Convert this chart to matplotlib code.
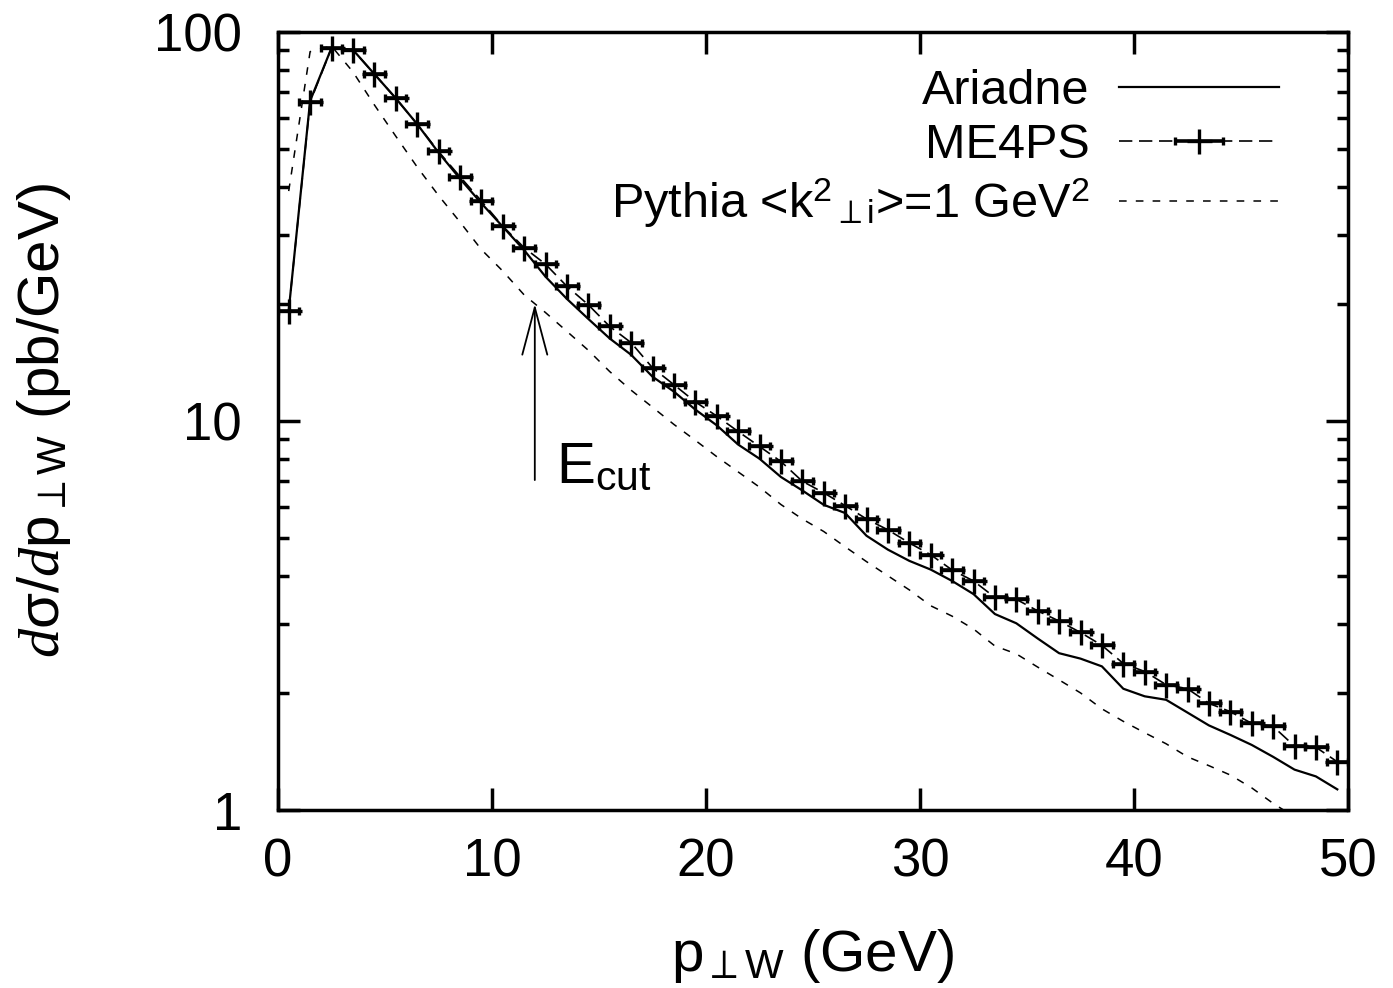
import numpy as np
import matplotlib
matplotlib.use('Agg')
import matplotlib.pyplot as plt

# bin centres (1 GeV bins)
pt = np.arange(0.5, 50, 1.0)

ariadne = [19.2, 66.5, 91, 90, 78, 67.6, 58, 49, 42, 36.3,
           31.6, 27.5, 23.5, 20.6, 18.3, 16.3, 14.8, 13.0, 11.9, 10.7,
           9.75, 8.7, 8.0, 7.18, 6.63, 6.09, 5.8, 5.07, 4.67, 4.37,
           4.15, 3.88, 3.59, 3.19, 3.02, 2.76, 2.53, 2.45, 2.34, 2.05,
           1.96, 1.92, 1.78, 1.65, 1.56, 1.47, 1.37, 1.27, 1.22, 1.13]

me4ps = [19.2, 66, 91, 90, 78, 67.6, 58, 49.3, 42.5, 36.8,
         31.7, 27.9, 25.3, 22.2, 19.9, 17.5, 15.9, 13.7, 12.4, 11.2,
         10.3, 9.4, 8.6, 7.87, 7.0, 6.54, 6.06, 5.6, 5.25, 4.86,
         4.53, 4.14, 3.88, 3.52, 3.48, 3.25, 3.06, 2.86, 2.65, 2.38,
         2.27, 2.1, 2.05, 1.88, 1.79, 1.67, 1.64, 1.46, 1.45, 1.33]

pythia = [39, 89, 92, 79, 65, 54, 45, 38, 32.5, 27.6,
          24.3, 21.1, 19.0, 17.0, 15.2, 13.4, 12.0, 10.85, 9.8, 8.92,
          8.1, 7.4, 6.76, 6.1, 5.6, 5.2, 4.75, 4.35, 4.0, 3.68,
          3.35, 3.15, 2.92, 2.64, 2.52, 2.33, 2.16, 2.0, 1.82, 1.69,
          1.58, 1.48, 1.37, 1.30, 1.23, 1.14, 1.04, 0.96, 0.9, 0.85]

e_cut = 12.0

plt.rcParams['font.family'] = ['Liberation Sans', 'DejaVu Sans']
plt.rcParams['mathtext.fontset'] = 'custom'
plt.rcParams['mathtext.rm'] = 'Liberation Sans'
plt.rcParams['mathtext.it'] = 'Liberation Serif:italic'
plt.rcParams['mathtext.bf'] = 'Liberation Sans:bold'

fs_tick = 38
fs_lab = 42
fs_leg = 35

fig = plt.figure(figsize=(13.93, 9.88), dpi=100)
ax = fig.add_axes([278/1393, 1 - 810/988, (1348-278)/1393, (810-32)/988])

l1, = ax.plot(pt, ariadne, '-', color='black', lw=1.6, label='Ariadne')
l2 = ax.errorbar(pt, me4ps, xerr=0.5, fmt='+', ls=(0, (8, 4)), color='black',
                 lw=1.2, ms=18, mew=2.4, elinewidth=2.6, capsize=3, capthick=1,
                 label='ME4PS')
l3, = ax.plot(pt, pythia, color='black', lw=1.1, ls=(0, (5, 6)),
              label='Pythia <k$^{2}$$_{\\perp\\mathrm{i}}$>=1 GeV$^{2}$')

ax.annotate('', xy=(e_cut, 20.0), xytext=(e_cut, 7.05),
            arrowprops=dict(arrowstyle='->,head_length=3.4,head_width=0.9',
                            lw=1.3, color='black', mutation_scale=10,
                            shrinkA=0, shrinkB=0))
ax.text(e_cut + 1.0, 6.9, 'E$_{\\mathrm{cut}}$', fontsize=fs_lab, ha='left', va='baseline')

ax.set_yscale('log')
ax.set_xlim(0, 50)
ax.set_ylim(1, 100)
ax.set_xticks([0, 10, 20, 30, 40, 50])
ax.set_yticks([1, 10, 100])
ax.set_yticklabels(['1', '10', '100'])
ax.yaxis.set_minor_locator(matplotlib.ticker.LogLocator(subs=np.arange(2, 10)))
ax.yaxis.set_minor_formatter(matplotlib.ticker.NullFormatter())

ax.tick_params(which='major', direction='in', length=16, width=2.5,
               top=True, right=True, labelsize=fs_tick)
ax.tick_params(axis='y', which='major', pad=26)
ax.tick_params(axis='x', which='major', pad=20)
ax.tick_params(which='minor', direction='in', length=8, width=2.5,
               top=True, right=True)
for s in ax.spines.values():
    s.set_linewidth(2.5)

ax.set_xlabel('p$_{\\perp\\mathrm{W}}$ (GeV)', fontsize=fs_lab, labelpad=28)
ax.set_ylabel('$d$σ/$d$p$_{\\perp\\mathrm{W}}$ (pb/GeV)', fontsize=fs_lab, labelpad=58)

leg = ax.legend(handles=[l1, l2, l3], loc='upper right', frameon=False,
                bbox_to_anchor=(0.954, 0.977), borderaxespad=0,
                fontsize=fs_leg, markerfirst=False, handlelength=3.3,
                labelspacing=0.18, handletextpad=0.6)

fig.savefig('out.png', dpi=100)
